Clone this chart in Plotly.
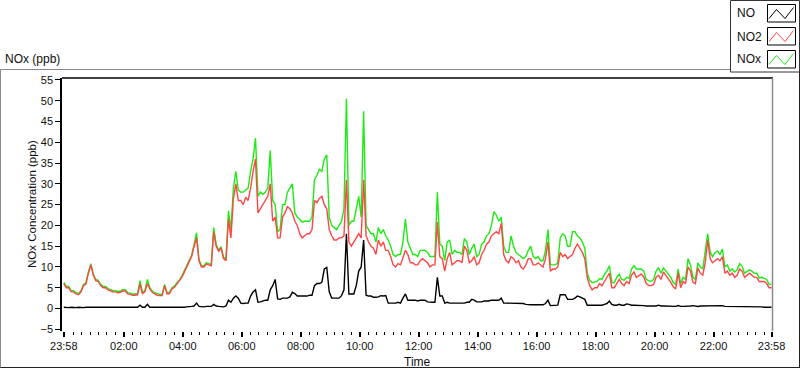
import plotly.graph_objects as go
import pandas as pd
from datetime import datetime, timedelta

# ---------------- data (5-minute samples; one row = one hour) ----------------
start_time = datetime(2024, 1, 1, 23, 58)

no2_ppb = [
    6.0, 5.0, 5.0, 4.0, 4.0, 3.5, 3.3, 4.0, 5.5, 5.9, 8.5, 10.5,
    8.0, 6.7, 6.5, 5.5, 5.0, 5.0, 4.5, 4.2, 4.0, 4.0, 3.8, 3.9,
    4.2, 4.2, 3.5, 3.4, 3.2, 3.2, 3.3, 5.9, 3.6, 4.0, 6.0, 4.7,
    3.9, 3.5, 3.2, 3.1, 3.1, 5.5, 3.5, 3.6, 4.7, 5.1, 5.9, 6.5,
    7.5, 8.7, 10.0, 11.5, 12.5, 15.0, 17.0, 11.5, 10.0, 10.0, 10.7, 10.5,
    10.3, 18.5, 15.0, 13.8, 14.5, 12.0, 11.5, 21.5, 17.0, 26.4, 30.0, 26.0,
    26.0, 25.0, 26.8, 26.0, 29.0, 33.0, 36.0, 23.0, 24.0, 25.0, 26.0, 27.0,
    30.0, 21.0, 22.0, 17.0, 17.0, 22.0, 23.0, 24.5, 24.0, 23.0, 21.0, 20.0,
    18.0, 17.0, 17.5, 18.0, 18.0, 19.0, 26.0, 25.5, 26.5, 27.0, 25.0, 24.0,
    19.0, 17.5, 16.5, 16.5, 17.0, 17.0, 17.5, 31.0, 16.0, 15.0, 16.0, 17.0,
    18.0, 17.0, 31.0, 17.5, 16.0, 15.0, 14.5, 13.0, 16.5, 15.0, 16.0, 14.0,
    14.0, 12.5, 10.5, 10.0, 10.8, 10.5, 12.5, 14.0, 13.0, 11.0, 11.0, 10.5,
    10.5, 11.5, 12.0, 11.5, 11.0, 10.0, 10.5, 10.5, 20.8, 12.5, 12.0, 9.0,
    12.0, 13.5, 10.5, 11.0, 11.5, 11.5, 11.0, 15.0, 14.0, 11.0, 11.5, 12.5,
    10.5, 11.0, 13.0, 14.0, 15.5, 16.0, 17.5, 18.0, 18.5, 18.0, 20.5, 13.0,
    11.5, 11.0, 12.5, 12.0, 11.0, 11.5, 10.0, 9.5, 10.5, 12.0, 12.0, 10.5,
    10.5, 11.0, 10.5, 10.0, 12.0, 16.0, 9.0, 9.5, 9.5, 10.0, 13.5, 12.5,
    13.0, 12.0, 12.5, 13.0, 14.5, 15.5, 14.5, 13.5, 12.0, 7.5, 5.5, 4.5,
    5.0, 5.0, 6.0, 5.5, 6.5, 7.5, 8.5, 5.0, 5.0, 6.0, 7.0, 6.0,
    5.5, 6.5, 6.0, 8.0, 8.8, 7.5, 8.0, 8.3, 7.6, 6.0, 5.5, 5.5,
    5.8, 7.5, 8.0, 7.0, 8.8, 8.0, 7.0, 6.3, 5.2, 4.7, 8.6, 5.0,
    6.5, 6.0, 10.0, 9.0, 6.3, 6.0, 9.8, 8.5, 8.0, 11.0, 16.5, 12.0,
    11.0, 11.5, 12.0, 11.5, 12.5, 8.5, 9.0, 8.0, 8.5, 7.5, 8.0, 9.5,
    9.0, 7.5, 8.0, 8.5, 8.0, 7.5, 7.5, 6.5, 6.5, 6.5, 6.0, 5.0,
    5.0,
]

nox_ppb = [
    6.3, 5.3, 5.3, 4.3, 4.3, 3.8, 3.6, 4.3, 5.8, 6.2, 8.8, 10.8,
    8.3, 7.0, 6.8, 5.8, 5.3, 5.3, 4.8, 4.5, 4.3, 4.3, 4.1, 4.2,
    4.5, 4.5, 3.8, 3.7, 3.5, 3.5, 3.6, 6.7, 3.9, 4.3, 7.0, 5.0,
    4.2, 3.8, 3.5, 3.4, 3.4, 5.8, 3.8, 3.9, 5.0, 5.4, 6.2, 6.8,
    7.8, 9.0, 10.3, 11.8, 12.8, 15.4, 18.2, 11.8, 10.3, 10.3, 11.0, 10.8,
    10.6, 19.5, 15.4, 14.1, 14.8, 12.3, 12.0, 23.5, 19.0, 29.0, 33.0, 28.5,
    28.0, 28.0, 28.5, 29.0, 33.0, 36.0, 41.0, 27.0, 28.0, 27.5, 28.0, 29.0,
    38.0, 26.0, 25.0, 18.5, 19.0, 25.0, 25.0, 28.0, 29.0, 30.0, 23.0, 22.0,
    21.5, 20.8, 21.0, 21.0, 21.0, 22.0, 31.0, 32.0, 33.5, 33.0, 36.0, 37.0,
    22.0, 20.0, 19.5, 19.0, 20.0, 21.0, 24.0, 50.5, 20.0, 21.0, 21.0, 24.0,
    27.0, 22.0, 47.5, 20.0, 19.0, 18.0, 18.0, 16.0, 19.5, 18.0, 19.0, 17.5,
    16.5, 15.0, 13.0, 12.5, 13.0, 13.0, 16.0, 21.5, 16.0, 14.5, 13.0, 13.0,
    12.5, 14.0, 14.0, 14.0, 13.5, 12.5, 12.5, 12.5, 28.0, 15.5, 15.0, 11.5,
    16.0, 16.5, 13.0, 14.0, 13.5, 13.5, 13.0, 16.8, 16.0, 13.0, 14.5, 15.5,
    12.5, 13.0, 15.5, 16.0, 17.5, 18.0, 20.0, 23.3, 22.5, 21.0, 22.0, 15.0,
    13.5, 13.5, 17.5, 15.0, 13.5, 13.0, 12.5, 12.0, 12.5, 14.0, 15.0, 12.5,
    12.0, 12.5, 11.5, 11.5, 14.0, 19.0, 10.5, 10.5, 10.5, 11.0, 17.0, 18.0,
    17.5, 15.0, 15.0, 18.5, 18.5, 17.5, 17.0, 16.0, 14.5, 8.5, 6.8, 6.2,
    6.3, 6.5, 7.2, 7.0, 8.2, 9.0, 10.3, 6.3, 6.2, 7.5, 8.3, 7.0,
    6.8, 7.5, 7.2, 9.5, 10.3, 9.5, 9.5, 9.5, 9.0, 7.0, 6.7, 6.5,
    7.0, 9.0, 9.8, 8.5, 9.8, 9.0, 8.0, 7.5, 6.2, 5.8, 9.5, 6.0,
    7.5, 7.0, 12.0, 10.5, 7.5, 7.0, 11.0, 10.0, 9.5, 13.5, 18.0, 13.5,
    12.5, 13.5, 13.8, 13.0, 14.3, 10.0, 10.5, 9.0, 9.5, 8.8, 9.3, 10.8,
    10.2, 8.5, 9.0, 9.3, 9.0, 8.5, 8.5, 7.3, 7.5, 7.2, 7.0, 5.8,
    5.8,
]

no_ppb = [
    0.3, 0.2, 0.2, 0.3, 0.2, 0.2, 0.3, 0.2, 0.2, 0.3, 0.3, 0.2,
    0.3, 0.2, 0.2, 0.3, 0.3, 0.2, 0.2, 0.3, 0.3, 0.2, 0.2, 0.3,
    0.3, 0.2, 0.2, 0.3, 0.3, 0.2, 0.3, 0.8, 0.3, 0.3, 1.0, 0.3,
    0.3, 0.2, 0.2, 0.3, 0.3, 0.3, 0.3, 0.2, 0.3, 0.3, 0.3, 0.3,
    0.3, 0.3, 0.4, 0.4, 0.5, 0.6, 1.3, 0.5, 0.4, 0.4, 0.5, 0.5,
    0.5, 1.0, 0.6, 0.5, 0.5, 0.4, 0.6, 2.0, 1.5, 2.5, 3.0, 2.5,
    1.3, 1.2, 1.3, 1.3, 3.0, 4.0, 4.5, 1.5, 1.6, 1.9, 2.0, 2.0,
    4.5, 5.5, 7.0, 2.3, 2.2, 2.5, 2.5, 2.5, 2.8, 3.9, 3.6, 3.0,
    3.0, 3.0, 3.0, 3.0, 3.2, 3.2, 5.5, 6.0, 6.0, 6.3, 9.5, 9.9,
    4.0, 2.5, 2.5, 2.5, 2.5, 3.1, 4.5, 18.0, 3.5, 3.5, 3.5, 5.5,
    9.0, 10.0, 16.5, 3.2, 3.0, 3.0, 2.7, 2.7, 2.8, 3.1, 3.0, 3.1,
    1.3, 1.3, 1.3, 1.3, 1.5, 1.3, 2.5, 3.5, 2.0, 2.0, 2.0, 2.0,
    1.8, 2.0, 2.0, 2.0, 1.6, 1.5, 1.5, 1.5, 7.5, 3.0, 3.0, 1.3,
    1.5, 1.3, 1.3, 1.3, 1.3, 1.3, 1.3, 1.3, 1.5, 1.5, 2.2, 2.0,
    1.6, 1.6, 1.6, 1.8, 1.8, 1.8, 2.0, 2.0, 2.0, 2.0, 2.5, 1.3,
    1.3, 1.3, 1.3, 1.3, 1.3, 1.3, 1.2, 1.2, 1.0, 0.9, 0.9, 0.9,
    0.9, 0.9, 0.8, 0.9, 1.2, 2.0, 0.7, 0.7, 0.7, 0.8, 3.3, 3.3,
    3.3, 2.2, 2.2, 2.2, 2.5, 3.0, 2.8, 2.5, 2.2, 0.8, 0.8, 0.8,
    0.7, 0.7, 0.8, 0.8, 1.0, 1.2, 1.8, 1.0, 0.8, 0.8, 1.0, 0.8,
    0.8, 1.1, 1.0, 0.8, 0.8, 0.8, 0.8, 0.7, 0.7, 0.6, 0.6, 0.6,
    0.6, 0.6, 0.8, 0.6, 0.6, 0.6, 0.5, 0.5, 0.5, 0.5, 0.7, 0.5,
    0.5, 0.5, 0.6, 0.6, 0.7, 0.6, 0.5, 0.6, 0.6, 0.7, 0.7, 0.7,
    0.6, 0.6, 0.6, 0.6, 0.7, 0.5, 0.5, 0.5, 0.5, 0.5, 0.5, 0.5,
    0.5, 0.4, 0.4, 0.4, 0.4, 0.4, 0.4, 0.4, 0.4, 0.3, 0.3, 0.3,
    0.3,
]

x_tick_labels = ["23:58", "02:00", "04:00", "06:00", "08:00", "10:00", "12:00",
                 "14:00", "16:00", "18:00", "20:00", "22:00", "23:58"]
y_tick_values = [-5, 0, 5, 10, 15, 20, 25, 30, 35, 40, 45, 50, 55]

series_names = ["NO", "NO2", "NOx"]
series_colors = ["#000000", "#FF4646", "#1EEB14"]


def times_for(values):
    return pd.date_range(start_time, periods=len(values), freq="5min")


# ---------------- figure ----------------
end_time = start_time + timedelta(hours=24)
major_ticks = [start_time] + [datetime(2024, 1, 2, h, 0) for h in range(2, 23, 2)] + [end_time]

anchor = datetime(2024, 1, 2, 2, 0)
step = timedelta(minutes=120 / 7)
minor_ticks = []
for k in range(-8, 80):
    t = anchor + k * step
    if start_time + timedelta(minutes=5) < t < end_time - timedelta(minutes=5):
        minor_ticks.append(t)

FONT = "Liberation Sans"

fig = go.Figure()
fig.add_trace(go.Scatter(x=times_for(nox_ppb), y=nox_ppb, mode="lines", name="NOx",
                         line=dict(color=series_colors[2], width=1.4)))
fig.add_trace(go.Scatter(x=times_for(no2_ppb), y=no2_ppb, mode="lines", name="NO2",
                         line=dict(color=series_colors[1], width=1.4)))
fig.add_trace(go.Scatter(x=times_for(no_ppb), y=no_ppb, mode="lines", name="NO",
                         line=dict(color=series_colors[0], width=1.4)))

# plot area in pixels
L, R, T, B = 62, 773, 78, 331
W, H = R - L, B - T


def px(x):
    return (x - L) / W


def py(y):
    return (B - y) / H


shapes = []
# outer frame
shapes.append(dict(type="line", xref="paper", yref="paper", x0=px(0.5), x1=px(799.5),
                   y0=py(69.5), y1=py(69.5), line=dict(color="#8a8a8a", width=1)))
shapes.append(dict(type="line", xref="paper", yref="paper", x0=px(0.5), x1=px(0.5),
                   y0=py(69.5), y1=py(368), line=dict(color="#8a8a8a", width=1)))
shapes.append(dict(type="line", xref="paper", yref="paper", x0=px(0.5), x1=px(799.5),
                   y0=py(367.5), y1=py(367.5), line=dict(color="#222222", width=1)))
shapes.append(dict(type="line", xref="paper", yref="paper", x0=px(799.5), x1=px(799.5),
                   y0=py(69.5), y1=py(368), line=dict(color="#222222", width=1)))
# plot frame top (black) and right (gray)
shapes.append(dict(type="line", xref="paper", yref="paper", x0=0, x1=1,
                   y0=1, y1=1, line=dict(color="#000000", width=1.5)))
shapes.append(dict(type="line", xref="paper", yref="paper", x0=px(772.5), x1=px(772.5),
                   y0=1, y1=py(331), line=dict(color="#8a8a8a", width=1.5)))

# custom legend box
shapes.append(dict(type="rect", xref="paper", yref="paper", x0=px(730.5), x1=px(799.5),
                   y0=py(0.5), y1=py(72), line=dict(color="#333333", width=1),
                   fillcolor="white", layer="above"))
annotations = []
for k, (name, col) in enumerate(zip(series_names, series_colors)):
    oy = 23 * k
    shapes.append(dict(type="rect", xref="paper", yref="paper",
                       x0=px(767.5), x1=px(795.5), y0=py(4.5 + oy), y1=py(22 + oy),
                       line=dict(color="#000000", width=1), fillcolor="white", layer="above"))
    pts = [(769, 18.5), (776.5, 9.5), (785, 18.5), (793.5, 7.5)]
    path = "M " + " L ".join(f"{px(a)},{py(b + oy)}" for a, b in pts)
    shapes.append(dict(type="path", xref="paper", yref="paper", path=path,
                       line=dict(color=col, width=1), layer="above"))
    annotations.append(dict(text=name, xref="paper", yref="paper", x=px(735), y=py(13.5 + oy),
                            xanchor="left", yanchor="middle", showarrow=False,
                            font=dict(family=FONT, size=12, color="#101010")))

annotations.append(dict(text="NOx (ppb)", xref="paper", yref="paper", x=px(3), y=py(58.5),
                        xanchor="left", yanchor="middle", showarrow=False,
                        font=dict(family=FONT, size=12, color="#101010")))
annotations.append(dict(text="Time", xref="paper", yref="paper", x=0.5, y=py(361.5),
                        xanchor="center", yanchor="middle", showarrow=False,
                        font=dict(family=FONT, size=12, color="#101010")))
annotations.append(dict(text="NOx Concentration (ppb)", xref="paper", yref="paper",
                        x=px(32), y=py(204), textangle=-90, xanchor="center",
                        yanchor="middle", showarrow=False,
                        font=dict(family=FONT, size=11.5, color="#101010")))

fig.update_layout(
    width=800, height=369,
    margin=dict(l=L, r=800 - R, t=T, b=369 - B, pad=0),
    paper_bgcolor="white", plot_bgcolor="white",
    showlegend=False,
    shapes=shapes, annotations=annotations,
    font=dict(family=FONT, size=11, color="#101010"),
)
fig.update_xaxes(
    range=[start_time - timedelta(minutes=3.7), end_time + timedelta(minutes=2.9)],
    tickmode="array", tickvals=major_ticks, ticktext=x_tick_labels,
    ticks="outside", ticklen=5, tickwidth=2, tickcolor="#000000",
    showgrid=False, zeroline=False, showline=False,
    tickfont=dict(family=FONT, size=11, color="#101010"),
    minor=dict(tickmode="array", tickvals=minor_ticks, ticks="outside", ticklen=3,
               tickwidth=1, tickcolor="#000000", showgrid=False),
)
fig.update_yaxes(
    range=[-5.415, 55.48],
    tickmode="array", tickvals=y_tick_values,
    ticks="outside", ticklen=5, tickwidth=1, tickcolor="#000000",
    showgrid=False, zeroline=False, showline=True, linecolor="#000000", linewidth=1.5,
    tickfont=dict(family=FONT, size=11, color="#101010"),
)

fig.write_html(
    "out.html",
    config={"displayModeBar": False},
    post_script="document.body.style.margin='0px';document.body.style.overflow='hidden';",
)
